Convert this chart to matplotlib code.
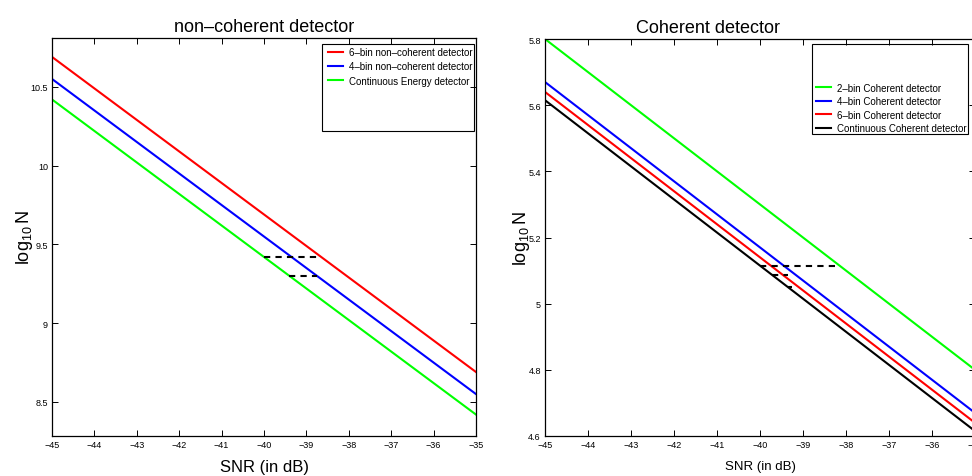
import numpy as np
import matplotlib.pyplot as plt
from matplotlib.patches import Rectangle

plt.rcParams['font.family'] = ['Liberation Sans', 'DejaVu Sans']
plt.rcParams['mathtext.fontset'] = 'custom'
plt.rcParams['mathtext.rm'] = 'Liberation Sans'
plt.rcParams['mathtext.it'] = 'Liberation Sans'

# SNR axis (dB)
snr = np.array([-45, -35])

# non-coherent: log10 N at -45 and -35 dB
nc_labels = ['6\u2013bin non\u2013coherent detector',
             '4\u2013bin non\u2013coherent detector',
             'Continuous Energy detector']
nc_values = [[10.69, 8.69], [10.55, 8.55], [10.42, 8.42]]
nc_colors = ['red', 'blue', 'lime']

# coherent: log10 N at -45 and -35 dB
co_labels = ['2\u2013bin Coherent detector',
             '4\u2013bin Coherent detector',
             '6\u2013bin Coherent detector',
             'Continuous Coherent detector']
co_values = [[5.80, 4.80], [5.67, 4.67], [5.64, 4.64], [5.615, 4.615]]
co_colors = ['lime', 'blue', 'red', 'black']

# dashed guide segments (x0, x1, y)
nc_dash = [(-40.0, -38.65, 9.42), (-39.4, -38.75, 9.30)]
co_dash = [(-40.0, -38.15, 5.115), (-39.72, -39.35, 5.087), (-39.36, -39.25, 5.051)]

W, H = 972, 477
fig = plt.figure(figsize=(W / 100, H / 100), dpi=100)

def px(x0, y0, x1, y1):
    return [x0 / W, 1 - y1 / H, (x1 - x0) / W, (y1 - y0) / H]

def style(ax, fs):
    ax.tick_params(direction='in', length=4, width=0.7, top=True, right=True,
                   labelsize=fs, pad=3)
    for s in ax.spines.values():
        s.set_linewidth(0.9)

# ---- left panel
ax1 = fig.add_axes(px(52, 39, 476, 437))
for v, c, l in zip(nc_values, nc_colors, nc_labels):
    ax1.plot(snr, v, color=c, lw=1.5, label=l)
for x0, x1, y in nc_dash:
    ax1.plot([x0, x1], [y, y], color='black', lw=1.5, ls=(0, (3, 2.5)))
ax1.set_xlim(-45, -35)
ax1.set_ylim(8.284, 10.81)
ax1.set_xticks(np.arange(-45, -34))
ax1.set_yticks([8.5, 9, 9.5, 10, 10.5])
ax1.set_yticklabels(['8.5', '9', '9.5', '10', '10.5'])
style(ax1, 6.5)
ax1.set_title('non\u2013coherent detector', fontsize=13, pad=5)
ax1.set_xlabel('SNR (in dB)', fontsize=12, labelpad=7)
ax1.set_ylabel(r'$\mathrm{log}_{10}\,\mathrm{N}$', fontsize=13)
ax1.yaxis.set_label_coords(-0.04, 0.5)
fig.patches.append(Rectangle((322 / W, 1 - 132 / H), (474 - 322) / W, (132 - 45) / H,
                             transform=fig.transFigure, fill=False, lw=0.8, ec='black'))
fig.legend(handles=ax1.lines[:3], loc='upper left', bbox_to_anchor=(325 / W, 1 - 45 / H),
           frameon=False, fontsize=7, handlelength=1.6, handletextpad=0.6,
           labelspacing=0.45, borderpad=0.3, borderaxespad=0)

# ---- right panel
ax2 = fig.add_axes(px(545, 40, 975, 437))
for v, c, l in zip(co_values, co_colors, co_labels):
    ax2.plot(snr, v, color=c, lw=1.5, label=l)
for x0, x1, y in co_dash:
    ax2.plot([x0, x1], [y, y], color='black', lw=1.5, ls=(0, (3, 2.5)))
ax2.set_xlim(-45, -35)
ax2.set_ylim(4.6, 5.8)
ax2.set_xticks(np.arange(-45, -34))
ax2.set_yticks(np.arange(4.6, 5.81, 0.2))
ax2.set_yticklabels(['4.6', '4.8', '5', '5.2', '5.4', '5.6', '5.8'])
style(ax2, 6.5)
ax2.set_title('Coherent detector', fontsize=13, pad=5, x=0.38)
ax2.set_xlabel('SNR (in dB)', fontsize=9.5, labelpad=8)
ax2.set_ylabel(r'$\mathrm{log}_{10}\,\mathrm{N}$', fontsize=13)
ax2.yaxis.set_label_coords(-0.03, 0.5)
fig.patches.append(Rectangle((812 / W, 1 - 135 / H), (968 - 812) / W, (135 - 45) / H,
                             transform=fig.transFigure, fill=False, lw=0.8, ec='black'))
fig.legend(handles=ax2.lines[:4], loc='lower left', bbox_to_anchor=(813 / W, 1 - 137 / H),
           frameon=False, fontsize=7, handlelength=1.6, handletextpad=0.6,
           labelspacing=0.35, borderpad=0.3, borderaxespad=0)

fig.savefig('out.png', dpi=100)
